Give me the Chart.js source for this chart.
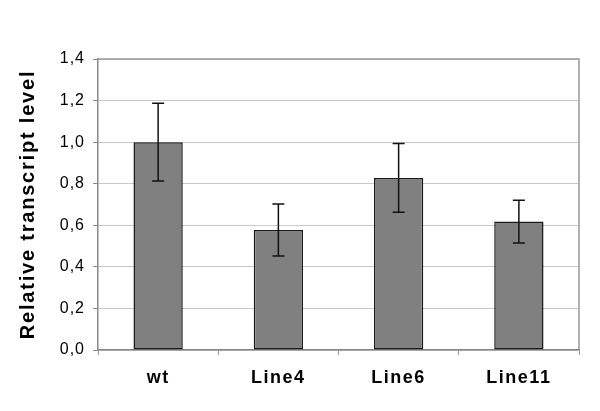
<!DOCTYPE html>
<html>
<head>
<meta charset="utf-8">
<script src="https://cdn.jsdelivr.net/npm/chart.js@4.4.1/dist/chart.umd.min.js"></script>
<style>
  html, body { margin: 0; padding: 0; background: #fff; }
  #wrap { width: 600px; height: 411px; }
</style>
</head>
<body>
<div id="wrap"><canvas id="c" width="600" height="411"></canvas></div>
<script>
const categories = ['wt', 'Line4', 'Line6', 'Line11'];
const values = [1.0, 0.577, 0.828, 0.618];
const errors = [0.187, 0.125, 0.165, 0.103];
const yTickLabels = ['0,0', '0,2', '0,4', '0,6', '0,8', '1,0', '1,2', '1,4'];
const yTitle = 'Relative transcript level';

function spaced(scale, method, spacing) {
  const key = '_sp_' + method;
  if (scale[key]) return;
  const orig = scale[method];
  scale[method] = function (...args) {
    const ctx = this.ctx;
    const prev = ctx.letterSpacing;
    ctx.letterSpacing = spacing;
    const r = orig.apply(this, args);
    ctx.letterSpacing = prev || '0px';
    return r;
  };
  scale[key] = true;
}

const errorBars = {
  id: 'errorBars',
  afterDatasetsDraw(chart) {
    const ctx = chart.ctx;
    const meta = chart.getDatasetMeta(0);
    const ys = chart.scales.y;
    ctx.save();
    ctx.strokeStyle = '#111';
    ctx.lineWidth = 1.5;
    meta.data.forEach((bar, i) => {
      const x = bar.x;
      const top = ys.getPixelForValue(values[i] + errors[i]);
      const bot = ys.getPixelForValue(values[i] - errors[i]);
      const cap = 6;
      ctx.beginPath();
      ctx.moveTo(x, top); ctx.lineTo(x, bot);
      ctx.moveTo(x - cap, top); ctx.lineTo(x + cap, top);
      ctx.moveTo(x - cap, bot); ctx.lineTo(x + cap, bot);
      ctx.stroke();
    });
    ctx.restore();
  }
};

const frame = {
  id: 'frame',
  beforeDatasetsDraw(chart) {
    const {ctx, chartArea: a} = chart;
    ctx.save();
    ctx.strokeStyle = '#999';
    ctx.lineWidth = 1.5;
    ctx.beginPath();
    ctx.moveTo(a.left, a.top);
    ctx.lineTo(a.right, a.top);
    ctx.lineTo(a.right, a.bottom);
    ctx.stroke();
    ctx.restore();
  }
};

new Chart(document.getElementById('c'), {
  type: 'bar',
  data: {
    labels: categories,
    datasets: [{
      data: values,
      backgroundColor: '#808080',
      borderColor: '#1a1a1a',
      borderWidth: 1.5,
      borderSkipped: false,
      categoryPercentage: 1.0,
      barPercentage: 0.41
    }]
  },
  options: {
    responsive: false,
    animation: false,
    devicePixelRatio: 1,
    layout: { padding: { left: 0, top: 59, right: 21, bottom: 0 } },
    plugins: { legend: { display: false }, tooltip: { enabled: false } },
    scales: {
      x: {
        afterFit(s) { s.height = 61; spaced(s, 'drawLabels', '1.5px'); },
        grid: { display: true, drawOnChartArea: false, drawTicks: true, tickLength: 5, color: '#999', lineWidth: 1 },
        border: { display: true, color: '#888', width: 1.5 },
        ticks: { color: '#000', font: { family: 'Liberation Sans', size: 18, weight: 'bold' }, padding: 12 }
      },
      y: {
        min: 0, max: 1.4,
        afterFit(s) { s.width = 98; spaced(s, 'drawLabels', '1px'); spaced(s, 'drawTitle', '1.8px'); },
        ticks: {
          stepSize: 0.2,
          color: '#000',
          font: { family: 'Liberation Sans', size: 16 },
          padding: 8,
          callback: (v, i) => yTickLabels[i]
        },
        grid: { color: '#c8c8c8', lineWidth: 1, tickLength: 5, tickColor: '#888' },
        border: { display: true, color: '#888', width: 1.5 },
        title: {
          display: true, text: yTitle, color: '#000',
          font: { family: 'Liberation Sans', size: 20, weight: 'bold' },
          padding: { top: 16, bottom: 0 }
        }
      }
    }
  },
  plugins: [frame, errorBars]
});
</script>
</body>
</html>
